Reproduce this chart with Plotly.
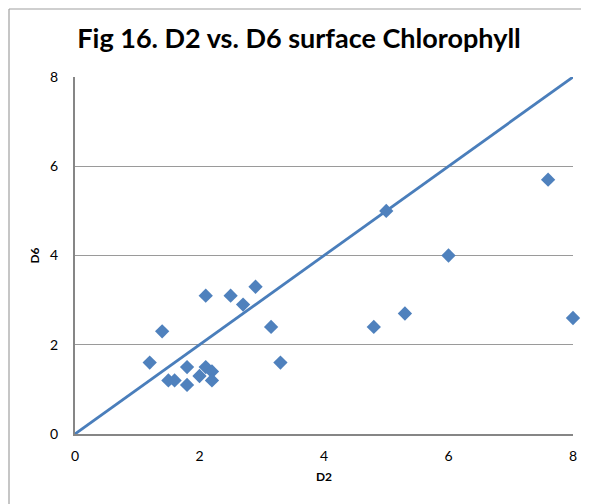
import plotly.graph_objects as go

d2 = [1.2, 1.4, 1.5, 1.6, 1.8, 1.8, 2.0, 2.1, 2.1, 2.2, 2.2, 2.5, 2.7, 2.9,
      3.15, 3.3, 4.8, 5.0, 5.3, 6.0, 7.6, 8.0]
d6 = [1.6, 2.3, 1.2, 1.2, 1.5, 1.1, 1.3, 3.1, 1.5, 1.4, 1.2, 3.1, 2.9, 3.3,
      2.4, 1.6, 2.4, 5.0, 2.7, 4.0, 5.7, 2.6]
line_x = [0, 8]
line_y = [0, 8]

# page body has an 8px margin, so the figure is 8px smaller than the window
W, H = 581, 496
L, T, R, B = 67, 69, 16, 70
pw, ph = W - L - R, H - T - B


def px_x(p):
    return (p - L) / pw


def px_y(p):
    return (H - B - p) / ph


fig = go.Figure()
fig.add_trace(go.Scatter(x=line_x, y=line_y, mode='lines',
                         line=dict(color='#4A7EBB', width=2.8),
                         showlegend=False, hoverinfo='skip', cliponaxis=False))
fig.add_trace(go.Scatter(x=d2, y=d6, mode='markers',
                         marker=dict(symbol='diamond', size=11, color='#4F81BD',
                                     line=dict(width=0)),
                         showlegend=False, cliponaxis=False))

fig.update_layout(
    width=W, height=H,
    margin=dict(l=L, r=R, t=T, b=B),
    paper_bgcolor='white', plot_bgcolor='white',
    font=dict(family='Lato, Liberation Sans, sans-serif', color='black'),
    title=dict(text='<b>Fig 16. D2 vs. D6 surface Chlorophyll</b>',
               x=0.501, xanchor='center', y=1 - 31 / H, yanchor='middle',
               font=dict(size=27)),
    shapes=[dict(type='line', xref='paper', yref='paper',
                 x0=px_x(1), x1=px_x(W), y0=px_y(1), y1=px_y(1),
                 line=dict(color='#A0A0A0', width=1.2)),
            dict(type='line', xref='paper', yref='paper',
                 x0=px_x(1), x1=px_x(1), y0=px_y(1), y1=px_y(H),
                 line=dict(color='#A0A0A0', width=1.2))],
)
fig.update_xaxes(range=[0, 8], dtick=2, showgrid=False, zeroline=False,
                 showline=True, linecolor='#868686', linewidth=2,
                 ticks='', tickfont=dict(size=14), ticklabelstandoff=8,
                 title=dict(text='<b>D2</b>', font=dict(size=12), standoff=10))
fig.update_yaxes(range=[0, 8], dtick=2, showgrid=True, gridcolor='#9A9A9A',
                 gridwidth=1, zeroline=False,
                 showline=True, linecolor='#868686', linewidth=2,
                 ticks='', tickfont=dict(size=14), ticklabelstandoff=12,
                 title=dict(text='<b>D6</b>', font=dict(size=12), standoff=8))

fig.write_html("out.html")
